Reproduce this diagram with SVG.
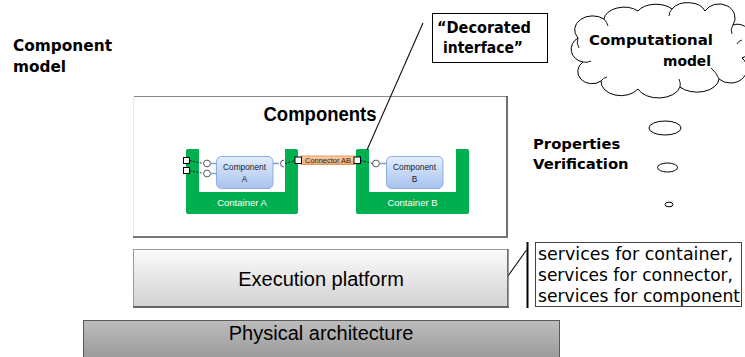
<svg xmlns="http://www.w3.org/2000/svg" width="745" height="357" viewBox="0 0 745 357">
  <style>
    .lbl { font-family: "DejaVu Sans", Verdana, sans-serif; font-weight: bold; fill: #000; }
    .svc { font-family: "DejaVu Sans", Verdana, sans-serif; font-size: 17px; fill: #000; }
    .arial { font-family: "Liberation Sans", Arial, sans-serif; }
    .cont { font-family: "Liberation Sans", Arial, sans-serif; font-size: 9.5px; fill: #fff; text-anchor: middle; }
    .comp { font-family: "Liberation Sans", Arial, sans-serif; font-size: 8.3px; fill: #1a1a1a; text-anchor: middle; }
    .green { fill: #00b050; }
    .compbox { fill: url(#blueGrad); stroke: #8caee2; stroke-width: 1; }
    .port { fill: #fff; stroke: #000; stroke-width: 1; }
    .iface { fill: #fff; stroke: #444; stroke-width: 0.9; }
    .wire { stroke: #000; stroke-width: 0.8; stroke-dasharray: 2 1.5; fill: none; }
    .blue { stroke: #7d9fd6; stroke-width: 1.6; fill: none; }
    .callout { stroke: #111; stroke-width: 1.1; fill: none; }
    .bubble { fill: #fff; stroke: #000; stroke-width: 1; }
  </style>
  <defs>
    <linearGradient id="blueGrad" x1="0" y1="0" x2="0" y2="1">
      <stop offset="0" stop-color="#e2ecfc"/>
      <stop offset="1" stop-color="#a8c3ef"/>
    </linearGradient>
    <linearGradient id="orangeGrad" x1="0" y1="0" x2="0" y2="1">
      <stop offset="0" stop-color="#fcd2ae"/>
      <stop offset="1" stop-color="#f3a56b"/>
    </linearGradient>
    <linearGradient id="execGrad" x1="0" y1="0" x2="0" y2="1">
      <stop offset="0" stop-color="#fbfbfb"/>
      <stop offset="1" stop-color="#d2d2d2"/>
    </linearGradient>
    <linearGradient id="physGrad" x1="0" y1="0" x2="0" y2="1">
      <stop offset="0" stop-color="#bdbdbd"/>
      <stop offset="1" stop-color="#989898"/>
    </linearGradient>
  </defs>

  <rect width="745" height="357" fill="#fff"/>

  <!-- Side labels -->
  <g id="component-model-label">
    <text class="lbl" x="13" y="51" font-size="15.3" textLength="99" lengthAdjust="spacingAndGlyphs">Component</text>
    <text class="lbl" x="13" y="72" font-size="15.3">model</text>
  </g>

  <g id="properties-verification">
    <text class="lbl" x="533" y="149" font-size="14.8">Properties</text>
    <text class="lbl" x="533" y="169" font-size="14.8">Verification</text>
  </g>

  <!-- Computational model cloud with its thought bubbles -->
  <g id="computational-model">
    <path class="bubble" d="M583,62 A14,13 0 0 1 578,38 A18,14 0 0 1 604,19 A20,13 0 0 1 638,11 A20,12 0 0 1 672,9 A18,12 0 0 1 705,11 A16,14 0 0 1 733,25 A14,16 0 0 1 742,58 A16,14 0 0 1 719,79 A22,14 0 0 1 680,87 A22,14 0 0 1 638,89 A20,14 0 0 1 601,81 A14,12 0 0 1 583,62 Z"/>
    <path d="M578,38 q-2,5 1,10 M604,19 q3,3 4,7 M672,9 q-3,3 -3,7 M733,25 q-3,4 -1,9 M742,40 q-4,1 -5,4 M719,79 q-2,-6 -8,-11 M680,87 q1,-4 -1,-8 M601,81 q2,-3 6,-4 M583,62 q4,1 8,-1" fill="none" stroke="#000" stroke-width="0.9"/>
    <text class="lbl" x="589" y="45" font-size="14" textLength="124" lengthAdjust="spacingAndGlyphs">Computational</text>
    <text class="lbl" x="663" y="66" font-size="14" textLength="48" lengthAdjust="spacingAndGlyphs">model</text>
    <ellipse class="bubble" cx="665" cy="128" rx="16" ry="7"/>
    <ellipse class="bubble" cx="667.5" cy="167.5" rx="10" ry="4.5"/>
    <ellipse class="bubble" cx="669" cy="204.5" rx="4" ry="2.3"/>
  </g>

  <!-- Decorated interface note -->
  <g id="decorated-interface">
    <rect x="432.5" y="13.5" width="115" height="49" fill="#fff" stroke="#000" stroke-width="1"/>
    <text class="lbl" x="437" y="33" font-size="15" textLength="94" lengthAdjust="spacingAndGlyphs">“Decorated</text>
    <text class="lbl" x="443" y="53" font-size="15" textLength="80" lengthAdjust="spacingAndGlyphs">interface”</text>
  </g>

  <!-- Components frame -->
  <g id="components">
    <rect x="133" y="96" width="374" height="141" fill="#fff"/>
    <line x1="133" y1="96.5" x2="507" y2="96.5" stroke="#8a8a8a" stroke-width="1"/>
    <line x1="133.5" y1="96" x2="133.5" y2="237" stroke="#e6e6e6" stroke-width="1"/>
    <line x1="507" y1="96" x2="507" y2="238" stroke="#333" stroke-width="1.4"/>
    <line x1="133" y1="237" x2="508" y2="237" stroke="#777" stroke-width="2"/>
    <text class="arial" x="320" y="121" font-size="20" font-weight="bold" text-anchor="middle" textLength="113" lengthAdjust="spacingAndGlyphs">Components</text>
  </g>

  <g id="container-a">
    <path class="green" d="M188,149 H199 V192 H285 V149 H296 Q298,149 298,151 V212 Q298,214 296,214 H188 Q186,214 186,212 V151 Q186,149 188,149 Z"/>
    <text class="cont" x="242" y="206">Container A</text>
  </g>

  <g id="container-b">
    <path class="green" d="M358,149 H369 V192 H456 V149 H467 Q469,149 469,151 V212 Q469,214 467,214 H358 Q356,214 356,212 V151 Q356,149 358,149 Z"/>
    <text class="cont" x="412.5" y="206">Container B</text>
  </g>

  <g id="component-a">
    <rect class="compbox" x="216.5" y="156.5" width="56.5" height="32" rx="5"/>
    <text class="comp" x="244.5" y="170">Component</text>
    <text class="comp" x="244.5" y="181.5">A</text>
  </g>

  <g id="component-b">
    <rect class="compbox" x="386.5" y="156.5" width="56.5" height="32" rx="5"/>
    <text class="comp" x="414.5" y="170">Component</text>
    <text class="comp" x="414.5" y="181.5">B</text>
  </g>

  <g id="connector-ab">
    <rect x="301" y="156" width="54" height="8.5" fill="url(#orangeGrad)" stroke="#d8894c" stroke-width="0.8"/>
    <text class="arial" x="328" y="162.7" font-size="7.2" fill="#222" text-anchor="middle" textLength="46" lengthAdjust="spacingAndGlyphs">Connector AB</text>
  </g>

  <!-- Ports and interfaces -->
  <g id="ports">
    <rect class="port" x="183.5" y="157.5" width="6" height="6"/>
    <rect class="port" x="183.5" y="167.5" width="6" height="6"/>
    <rect class="port" x="295" y="157" width="6.5" height="6.5"/>
    <rect class="port" x="354" y="157" width="6.5" height="6.5"/>
    <circle class="iface" cx="207" cy="163.5" r="3.4"/>
    <circle class="iface" cx="207" cy="173.5" r="3.4"/>
    <circle class="iface" cx="376" cy="163.5" r="3.4"/>
    <path class="iface" fill="none" d="M284,160 A3.5,3.5 0 0 0 284,167"/>
  </g>

  <!-- Connectors -->
  <g id="connectors">
    <path class="wire" d="M189.5,160.5 L203.5,163.5 M189.5,170.5 L203.5,173.5 M285,163.5 L295,160.5 M360.5,160.5 L372.5,163.5"/>
    <path class="blue" d="M210.4,163.5 H216.5 M210.4,173.5 H216.5 M273,163.5 H279 M379.4,163.5 H386.5"/>
    <line class="callout" x1="423" y1="23" x2="367" y2="150"/>
    <line x1="527.5" y1="242" x2="527.5" y2="308" stroke="#000" stroke-width="2"/>
    <line class="callout" x1="508" y1="276" x2="526.5" y2="250"/>
  </g>

  <!-- Platform layers -->
  <g id="execution-platform">
    <rect x="133.5" y="249.5" width="374" height="57" fill="url(#execGrad)" stroke="#9a9a9a" stroke-width="1"/>
    <line x1="508" y1="249" x2="508" y2="308" stroke="#555" stroke-width="1.2"/>
    <line x1="133" y1="307" x2="509" y2="307" stroke="#666" stroke-width="2"/>
    <text class="arial" x="321" y="286" font-size="20" text-anchor="middle" fill="#000">Execution platform</text>
  </g>

  <g id="services-note">
    <rect x="535.5" y="242.5" width="206" height="64" fill="#fff" stroke="#444" stroke-width="1"/>
    <text class="svc" x="538" y="260" textLength="195" lengthAdjust="spacingAndGlyphs">services for container,</text>
    <text class="svc" x="538" y="281" textLength="195" lengthAdjust="spacingAndGlyphs">services for connector,</text>
    <text class="svc" x="538" y="302" textLength="202" lengthAdjust="spacingAndGlyphs">services for component</text>
  </g>

  <g id="physical-architecture">
    <rect x="83.5" y="320.5" width="476" height="40" fill="url(#physGrad)" stroke="#5a5a5a" stroke-width="1"/>
    <text class="arial" x="321" y="340" font-size="20" text-anchor="middle" fill="#000">Physical architecture</text>
  </g>
</svg>
